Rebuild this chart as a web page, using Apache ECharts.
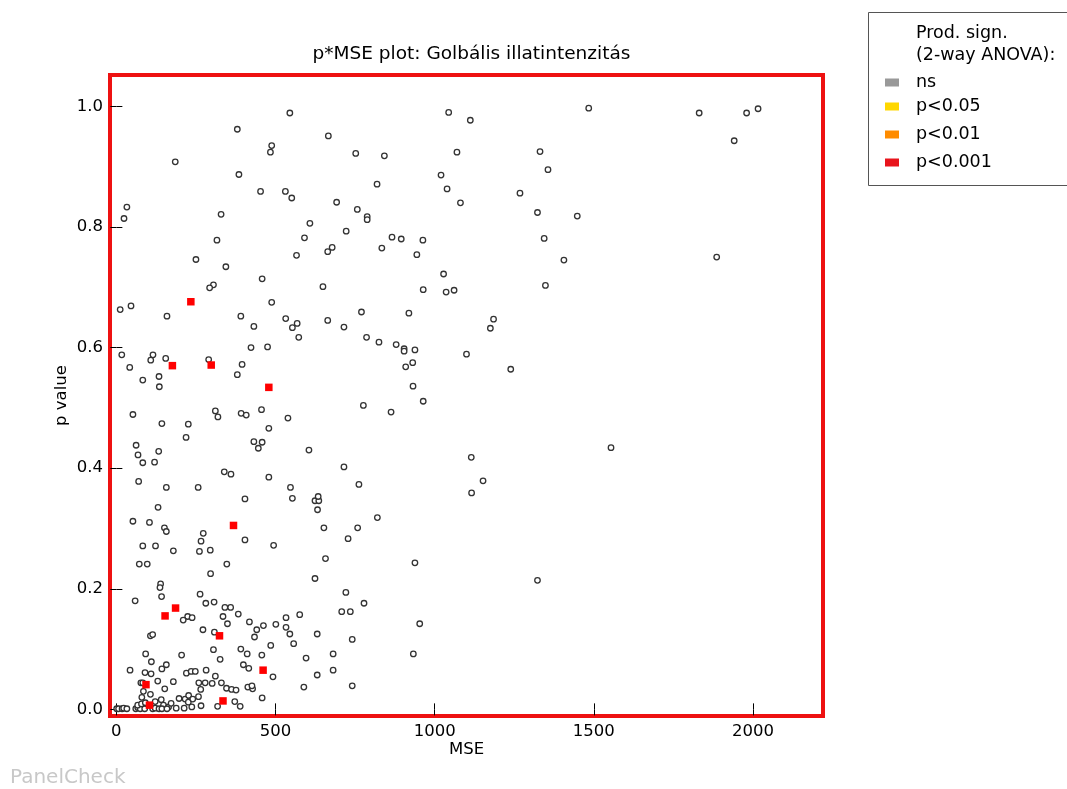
<!DOCTYPE html>
<html><head><meta charset="utf-8">
<script src="https://cdn.jsdelivr.net/npm/echarts@6/dist/echarts.min.js"></script>
<style>html,body{margin:0;padding:0;background:#fff}#c{width:1067px;height:789px}</style>
</head><body><div id="c"></div>
<script>
// [MSE, p value] for assessor/attribute combinations, non-significant product effect
const nsPoints = [
[33,0.833],[24,0.814],[185,0.908],[380,0.962],[488,0.935],[484,0.924],[545,0.989],[666,0.951],[752,0.922],[842,0.918],
[385,0.887],[453,0.859],[531,0.859],[551,0.848],[819,0.871],[1020,0.886],[1039,0.863],[1081,0.840],[329,0.821],[692,0.841],
[757,0.829],[788,0.817],[788,0.812],[608,0.806],[722,0.793],[591,0.782],[316,0.778],[866,0.783],[895,0.780],[963,0.778],
[834,0.765],[678,0.766],[664,0.759],[566,0.753],[944,0.754],[250,0.746],[344,0.734],[458,0.714],[1028,0.722],
[1044,0.990],[1112,0.977],[1070,0.924],[1484,0.997],[1831,0.989],[1980,0.989],[2016,0.996],[1941,0.943],[1331,0.925],[1356,0.895],
[1268,0.856],[1323,0.824],[1448,0.818],[1344,0.781],[1406,0.745],[1886,0.750],
[305,0.704],[293,0.699],[649,0.701],[964,0.696],[1036,0.692],[1061,0.695],[12,0.663],[46,0.669],[488,0.675],[159,0.652],
[391,0.652],[432,0.635],[532,0.648],[568,0.640],[553,0.633],[573,0.617],[664,0.645],[715,0.634],[770,0.659],[919,0.657],
[786,0.617],[825,0.609],[879,0.605],[904,0.598],[904,0.594],[938,0.596],[423,0.600],[475,0.601],[17,0.588],[115,0.588],
[108,0.579],[155,0.582],[42,0.567],[290,0.580],[395,0.572],[931,0.575],[909,0.568],[134,0.552],[380,0.555],[83,0.546],
[135,0.535],[932,0.536],[964,0.511],[776,0.504],[863,0.493],[311,0.495],[319,0.485],[392,0.491],[408,0.488],[456,0.497],
[539,0.483],[52,0.489],[143,0.474],[226,0.473],[219,0.451],[479,0.466],[432,0.444],[458,0.443],[446,0.433],[605,0.430],
[62,0.438],[68,0.422],[133,0.428],[83,0.409],[120,0.410],[715,0.402],[339,0.394],[360,0.390],[479,0.385],[70,0.378],
[762,0.373],[157,0.368],[257,0.368],[547,0.368],
[1348,0.703],[1185,0.647],[1175,0.632],[1100,0.589],[1239,0.564],[1554,0.434],[1115,0.418],[1152,0.379],[1116,0.359],[1323,0.214],
[553,0.350],[404,0.349],[624,0.346],[636,0.346],[634,0.353],[632,0.331],[131,0.335],[52,0.312],[104,0.310],[151,0.301],
[157,0.295],[273,0.292],[652,0.301],[758,0.301],[820,0.318],[404,0.281],[266,0.279],[728,0.283],[83,0.271],[123,0.271],
[494,0.272],[179,0.263],[261,0.262],[295,0.264],[657,0.250],[72,0.241],[97,0.241],[347,0.241],[938,0.243],[296,0.225],
[624,0.217],[139,0.208],[137,0.202],[142,0.187],[59,0.180],[263,0.191],[721,0.194],[778,0.176],[281,0.176],[307,0.178],
[341,0.169],[359,0.169],[224,0.154],[238,0.152],[210,0.148],[335,0.154],[349,0.142],[383,0.158],[418,0.145],[441,0.132],
[462,0.139],[434,0.120],[501,0.141],[533,0.152],[533,0.136],[545,0.125],[576,0.157],[557,0.109],[631,0.125],[708,0.162],
[735,0.162],[741,0.116],[953,0.142],[272,0.132],[308,0.128],[107,0.122],[114,0.124],[305,0.099],[326,0.083],[391,0.100],
[411,0.092],[457,0.090],[485,0.106],[92,0.092],[110,0.079],[205,0.090],[596,0.085],[681,0.092],[933,0.092],[681,0.065],
[631,0.057],[399,0.074],[416,0.068],[492,0.054],[43,0.065],[143,0.067],[157,0.074],[90,0.061],[109,0.059],[220,0.060],
[235,0.063],[248,0.063],[282,0.065],[77,0.044],[83,0.044],[130,0.047],[179,0.046],[259,0.044],[279,0.044],[301,0.043],
[311,0.055],[330,0.044],[346,0.035],[362,0.033],[376,0.032],[413,0.037],[428,0.034],[426,0.039],[589,0.037],[741,0.039],
[458,0.019],[372,0.013],[389,0.005],[318,0.005],[266,0.006],[265,0.033],[258,0.021],
[152,0.034],[85,0.030],[107,0.025],[80,0.020],[122,0.013],[141,0.016],[148,0.007],[164,0.004],[172,0.010],[188,0.002],
[197,0.018],[216,0.017],[227,0.023],[226,0.012],[240,0.017],[213,0.002],[237,0.004],
[1,0.001],[7,0.001],[18,0.001],[23,0.002],[33,0.001],[61,0.001],[67,0.003],[75,0.001],[89,0.001],[114,0.001],
[122,0.002],[134,0.001],[143,0.001],[159,0.001],[67,0.007],[79,0.009],[91,0.011]
];
// p<0.001 product effect
const sig001Points = [
[234,0.676],[176,0.570],[298,0.571],[479,0.534],[368,0.305],[186,0.168],[153,0.155],[324,0.122],[461,0.065],[93,0.041],[335,0.014],[104,0.007]
];
const sig05Points = [];
const sig01Points = [];
const xTickValues = [0, 500, 1000, 1500, 2000];
const yTickValues = [0, 0.2, 0.4, 0.6, 0.8, 1.0];
const legendNames = ['ns', 'p<0.05', 'p<0.01', 'p<0.001'];

const FONT = 'DejaVu Sans';
const chart = echarts.init(document.getElementById('c'), null, {renderer: 'canvas'});
const X_MIN = -20, X_MAX = 2220, Y_MIN = -0.011, Y_MAX = 1.052;
const tickCommon = {show: true, inside: true, length: 6, lineStyle: {color: '#000', width: 1}};
function xAx(pos, labels) {
  return {
    type: 'value', position: pos, min: X_MIN, max: X_MAX,
    axisLine: {show: false}, splitLine: {show: false},
    axisTick: Object.assign({customValues: xTickValues}, tickCommon),
    axisLabel: {show: labels, customValues: xTickValues, margin: 7, color: '#000', fontFamily: FONT, fontSize: 16.5,
      formatter: v => String(Math.round(v))},
    name: labels ? 'MSE' : '', nameLocation: 'middle', nameGap: 25, nameMoveOverlap: false,
    nameTextStyle: {color: '#000', fontFamily: FONT, fontSize: 16.5}
  };
}
function yAx(pos, labels) {
  return {
    type: 'value', position: pos, min: Y_MIN, max: Y_MAX,
    axisLine: {show: false}, splitLine: {show: false},
    axisTick: Object.assign({customValues: yTickValues}, tickCommon),
    axisLabel: {show: labels, customValues: yTickValues, margin: 7, color: '#000', fontFamily: FONT, fontSize: 16.5,
      formatter: v => v.toFixed(1)},
    name: labels ? 'p value' : '', nameLocation: 'middle', nameGap: 40, nameMoveOverlap: false,
    nameTextStyle: {color: '#000', fontFamily: FONT, fontSize: 16.5}
  };
}
const legendColors = {'ns': '#999999', 'p<0.05': '#ffd700', 'p<0.01': '#ff8c00', 'p<0.001': '#e8141c'};
const legendTops = [72.5, 96.5, 124.5, 152.5];
const legends = legendNames.map((n, i) => ({
  show: true, orient: 'vertical', left: 885, top: legendTops[i], padding: 0,
  selectedMode: false, itemWidth: 14, itemHeight: 8, itemGap: 0,
  textStyle: {color: '#000', fontFamily: FONT, fontSize: 17.5, lineHeight: 20, padding: [0, 0, 0, 12]},
  data: [{name: n, icon: 'rect', itemStyle: {color: legendColors[n], borderWidth: 0, opacity: 1}}]
}));

chart.setOption({
  animation: false,
  backgroundColor: '#fff',
  title: {text: 'p*MSE plot: Golbális illatintenzitás', left: 466.5, textAlign: 'center', top: 40,
    textStyle: {color: '#000', fontFamily: FONT, fontSize: 18.5, fontWeight: 'normal'}},
  grid: {left: 110, right: 244, top: 75, bottom: 73, show: true, borderColor: '#ee1111', borderWidth: 4, backgroundColor: 'transparent'},
  xAxis: [xAx('bottom', true), xAx('top', false)],
  yAxis: [yAx('left', true), yAx('right', false)],
  legend: legends,
  graphic: [
    {type: 'rect', left: 868, top: 12, shape: {width: 215, height: 173}, style: {fill: '#fff', stroke: '#555', lineWidth: 1}, z: -1},
    {type: 'text', left: 916, top: 22, style: {text: 'Prod. sign.\n(2-way ANOVA):', fill: '#000', font: '17.5px "DejaVu Sans"', lineHeight: 22}},
    {type: 'text', left: 10, top: 768, style: {text: 'PanelCheck', fill: '#c8c8c8', font: '20px "DejaVu Sans"'}}
  ],
  series: [
    {name: 'ns', type: 'scatter', data: nsPoints, symbol: 'circle', symbolSize: 5.5,
      itemStyle: {color: '#fff', borderColor: '#333', borderWidth: 1.3, opacity: 1}, z: 2},
    {name: 'p<0.05', type: 'scatter', data: sig05Points, symbol: 'rect', symbolSize: 7, itemStyle: {color: '#ffd700', opacity: 1}, z: 3},
    {name: 'p<0.01', type: 'scatter', data: sig01Points, symbol: 'rect', symbolSize: 7, itemStyle: {color: '#ff8c00', opacity: 1}, z: 3},
    {name: 'p<0.001', type: 'scatter', data: sig001Points, symbol: 'rect', symbolSize: 7.5, itemStyle: {color: '#ff0000', opacity: 1}, z: 4}
  ]
});
</script></body></html>
